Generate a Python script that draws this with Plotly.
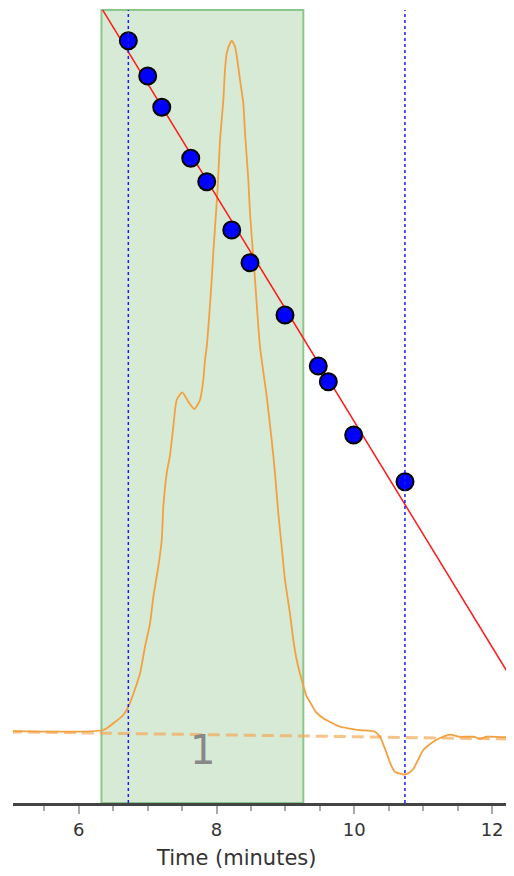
import plotly.graph_objects as go
import numpy as np

# Chromatogram (detector response, mV) vs retention time (minutes)
trace_time = [5.0, 6.357, 6.502, 6.647, 6.720, 6.792, 6.890, 6.962, 7.035, 7.083, 7.155, 7.205, 7.228,
              7.277, 7.325, 7.373, 7.422, 7.504, 7.591, 7.678, 7.760, 7.808, 7.833, 7.858, 7.930,
              7.956, 8.015, 8.051, 8.099, 8.123, 8.148, 8.196, 8.221, 8.269, 8.302, 8.341, 8.389,
              8.414, 8.462, 8.486, 8.559, 8.631, 8.729, 8.801, 8.849, 8.897, 8.946, 8.994, 9.066,
              9.115, 9.164, 9.237, 9.309, 9.357, 9.444, 9.550, 9.647, 9.793, 9.938, 10.083, 10.301,
              10.374, 10.470, 10.533, 10.591, 10.711, 10.779, 10.856, 10.924, 11.002, 11.147,
              11.244, 11.389, 11.534, 11.727, 11.824, 11.922, 12.115, 12.308, 12.5]
trace_signal = [0.0, 0.15, 1.12, 2.32, 3.52, 5.36, 8.36, 12.22, 15.61, 19.46, 23.81, 27.68, 32.51,
                37.35, 40.0, 44.10, 47.97, 49.09, 47.72, 46.67, 47.97, 50.87, 53.77, 55.70, 65.36,
                69.71, 78.41, 85.65, 91.45, 95.80, 98.22, 99.67, 100.04, 99.17, 97.25, 94.35, 90.97,
                86.62, 79.86, 75.07, 65.36, 55.70, 48.45, 42.17, 37.35, 31.55, 26.71, 21.88, 17.06,
                13.19, 10.29, 7.39, 4.97, 4.20, 2.75, 1.84, 1.30, 0.62, 0.36, 0.14, -0.10,
                -0.87, -3.23, -4.93, -5.90, -6.30, -6.13, -5.51, -4.20, -2.75, -1.55,
                -1.01, -0.51, -0.83, -0.83, -1.13, -0.83, -0.87, -0.94, -0.94]

# Baseline (dashed)
baseline_time = [5.0, 12.5]
baseline_signal = [-0.12, -1.18]

# Calibration standards: retention time vs log(MW)
std_time = [6.720, 7.001, 7.205, 7.626, 7.858, 8.221, 8.486, 8.994, 9.477, 9.623, 9.991, 10.736]
std_logmw = [7.623, 7.27, 6.957, 6.447, 6.213, 5.73, 5.403, 4.88, 4.37, 4.213, 3.68, 3.213]

# Linear calibration fit coefficients: logMW = a + b * t
cal_coef = [15.084, -1.127]
fit_span = [5.0, 12.5]

# Integration region and limit markers
region_start, region_end = 6.33, 9.26
limit_lines = [6.72, 10.735]
peak_label = "1"
peak_label_time = 7.79
peak_label_signal = -2.75
x_title = "Time (minutes)"

fit_t = np.array(fit_span)
fit_v = cal_coef[0] + cal_coef[1] * fit_t

fig = go.Figure()

# integration region
fig.add_shape(type="rect", xref="x", yref="paper", x0=region_start, x1=region_end, y0=0, y1=1,
              fillcolor="rgba(140,195,135,0.35)", line=dict(color="#8cc68a", width=2), layer="below")

for xl in limit_lines:
    fig.add_shape(type="line", xref="x", yref="paper", x0=xl, x1=xl, y0=0, y1=1,
                  line=dict(color="#1a1aff", width=1.5, dash="dot"), layer="above")

fig.add_trace(go.Scatter(x=baseline_time, y=baseline_signal, mode="lines",
                         line=dict(color="rgba(242,170,90,0.7)", width=3, dash="12px,6px"),
                         yaxis="y", hoverinfo="skip"))
fig.add_trace(go.Scatter(x=trace_time, y=trace_signal, mode="lines",
                         line=dict(color="#f2a040", width=1.8, shape="spline", smoothing=0.6), yaxis="y"))
fig.add_trace(go.Scatter(x=fit_t, y=fit_v, mode="lines",
                         line=dict(color="#ff1a1a", width=1.5), yaxis="y2"))
fig.add_trace(go.Scatter(x=std_time, y=std_logmw, mode="markers",
                         marker=dict(color="#0000ff", size=17, line=dict(color="black", width=2)),
                         yaxis="y2"))

fig.add_annotation(x=peak_label_time, y=peak_label_signal, xref="x", yref="y", text=peak_label,
                   showarrow=False, font=dict(family="DejaVu Sans", size=40, color="#888888"))

fig.add_annotation(x=0.446, y=-0.0694, xref="paper", yref="paper", text=x_title,
                   showarrow=False, xanchor="center", yanchor="middle",
                   font=dict(family="DejaVu Sans", size=21, color="#333333"))

fig.update_layout(
    width=506, height=868,
    margin=dict(l=5, r=0, t=2, b=73),
    paper_bgcolor="white", plot_bgcolor="white",
    showlegend=False,
    font=dict(family="DejaVu Sans", color="#333333"),
    xaxis=dict(range=[5.046, 12.318], tickvals=[6, 8, 10, 12], ticks="outside", ticklen=8,
               tickcolor="#aaaaaa", tickwidth=1.5,
               minor=dict(dtick=0.5, tick0=0, ticks="outside", ticklen=5, tickcolor="#aaaaaa", showgrid=False),
               showgrid=False, zeroline=False, showline=True, linecolor="#444444", linewidth=3,
               tickfont=dict(size=18, color="#333333")),
    yaxis=dict(range=[-10.43, 104.49], visible=False, showgrid=False, zeroline=False),
    yaxis2=dict(range=[0, 7.93], visible=False, overlaying="y", showgrid=False, zeroline=False),
)

fig.write_html("out.html", config={"displayModeBar": False})
